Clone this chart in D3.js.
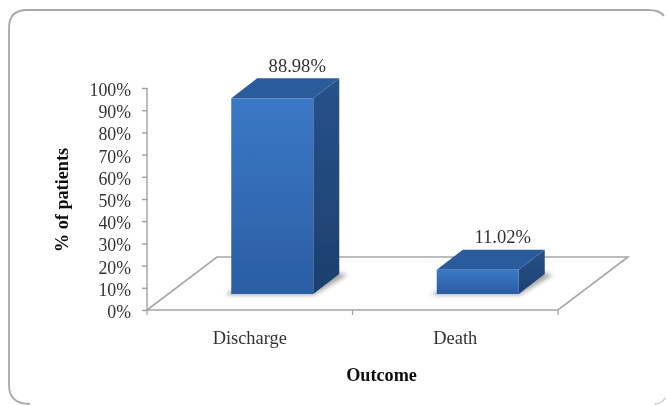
<!DOCTYPE html>
<html><head><meta charset="utf-8">
<script src="https://cdn.jsdelivr.net/npm/d3@7/dist/d3.min.js"></script>
<style>html,body{margin:0;padding:0;background:#fff}svg{display:block}text{font-family:"Liberation Serif",serif}</style>
</head><body><svg id="c" width="666" height="406"></svg>
<script>
const categories = ["Discharge", "Death"];
const values = [88.98, 11.02];
const valueLabels = ["88.98%", "11.02%"];
const yTicks = d3.range(0, 101, 10);

const svg = d3.select("#c");
const defs = svg.append("defs");
const front = defs.append("linearGradient").attr("id", "front").attr("x1", 0).attr("x2", 0).attr("y1", 0).attr("y2", 1);
front.append("stop").attr("offset", 0).attr("stop-color", "#3b78c6");
front.append("stop").attr("offset", 1).attr("stop-color", "#2a5da3");
const side = defs.append("linearGradient").attr("id", "side").attr("x1", 0).attr("x2", 0).attr("y1", 0).attr("y2", 1);
side.append("stop").attr("offset", 0).attr("stop-color", "#27528a");
side.append("stop").attr("offset", 1).attr("stop-color", "#1d3f6e");
defs.append("filter").attr("id", "soft").attr("x", "-20%").attr("y", "-20%").attr("width", "140%").attr("height", "140%")
  .append("feGaussianBlur").attr("stdDeviation", 2);
defs.append("filter").attr("id", "aa").attr("filterUnits", "userSpaceOnUse")
  .attr("x", 0).attr("y", 0).attr("width", 666).attr("height", 406)
  .append("feGaussianBlur").attr("stdDeviation", 0.45);

const depth = {x: 70, y: -53};
const barDepth = {x: 26, y: -20};
const x = d3.scaleBand().domain(categories).range([147, 558]);
const y = d3.scaleLinear().domain([0, 100]).range([310, 88]);
const yFront = d3.scaleLinear().domain([0, 100]).range([294, 74]);
const barW = 82;

const g = svg.append("g").attr("filter", "url(#aa)");

// frame: the left and top edges show, the right and bottom edges fade out
const frame = d3.path();
frame.moveTo(30, 404);
frame.quadraticCurveTo(9, 404, 9, 385);
frame.lineTo(9, 28);
frame.quadraticCurveTo(9, 10, 27, 10);
frame.lineTo(648, 10);
frame.quadraticCurveTo(660, 10, 664, 16);
g.append("path").attr("d", frame.toString()).attr("fill", "none")
  .attr("stroke", "#a8a8a8").attr("stroke-width", 1.8);
const corner = d3.path();
corner.moveTo(654, 404);
corner.quadraticCurveTo(662, 404, 665, 398);
g.append("path").attr("d", corner.toString()).attr("fill", "none")
  .attr("stroke", "#cfcfcf").attr("stroke-width", 1.5);

// floor
const fl = d3.line();
g.append("path").attr("d", fl([
  [x.range()[0], y(0)], [x.range()[1], y(0)],
  [x.range()[1] + depth.x, y(0) + depth.y],
  [x.range()[0] + depth.x, y(0) + depth.y]]) + "Z")
  .attr("fill", "none").attr("stroke", "#a6a6a6").attr("stroke-width", 1.6);

// y axis
const yAxis = d3.axisLeft(y).tickValues(yTicks).tickFormat(d => d + "%").tickSize(5).tickPadding(11);
const ya = g.append("g").attr("transform", "translate(147,0)").call(yAxis);
ya.selectAll("path,line").attr("stroke", "#a0a0a0").attr("stroke-width", 1.4);
ya.select(".domain").attr("d", `M0,${y(100)}V${y(0)}`);
ya.selectAll("line").attr("x1", -5).attr("x2", 0);
ya.selectAll("text").style("font-size", "17.8px").style("font-family", "'Liberation Serif',serif")
  .attr("fill", "#333").attr("dy", "0.42em");

// x axis
const xa = g.append("g").attr("transform", `translate(0,${y(0)})`);
xa.selectAll("line").data([147, 352.5, 558]).join("line")
  .attr("x1", d => d).attr("x2", d => d).attr("y1", 0).attr("y2", 5)
  .attr("stroke", "#a0a0a0").attr("stroke-width", 1.2);
xa.selectAll("text").data(categories).join("text")
  .attr("x", d => x(d) + x.bandwidth() / 2).attr("y", 34)
  .attr("text-anchor", "middle").style("font-size", "18.4px").attr("fill", "#333").text(d => d);

// bars
categories.forEach((c, i) => {
  const cx = x(c) + x.bandwidth() / 2 + 22.5;
  const l = cx - barW / 2, r = cx + barW / 2;
  const b = yFront(0), t = yFront(values[i]);
  const dx = barDepth.x, dy = barDepth.y;
  const bar = g.append("g");
  bar.append("path").attr("filter", "url(#soft)").attr("fill", "#8a8a8a").attr("opacity", 0.75)
    .attr("d", fl([[l - 6, b + 1], [r + 1, b + 1], [r + dx + 8, b + dy + 1], [r + dx - 4, b + dy - 2], [r, b - 3], [l, b - 3]]) + "Z");
  bar.append("path").attr("fill", "url(#side)")
    .attr("d", fl([[r, b], [r + dx, b + dy], [r + dx, t + dy], [r, t]]) + "Z");
  bar.append("path").attr("fill", "#2a5b9c")
    .attr("d", fl([[l, t], [l + dx, t + dy], [r + dx, t + dy], [r, t]]) + "Z");
  bar.append("rect").attr("x", l).attr("y", t).attr("width", barW).attr("height", b - t).attr("fill", "url(#front)");
  g.append("text").attr("x", cx + 25).attr("y", t + dy - 6.5)
    .attr("text-anchor", "middle").style("font-size", "18.6px").attr("fill", "#333").text(valueLabels[i]);
});

// titles
g.append("text").attr("transform", "translate(68,200) rotate(-90)").attr("text-anchor", "middle")
  .style("font-size", "18.2px").style("font-weight", "bold").attr("fill", "#111").text("% of patients");
g.append("text").attr("x", 381.5).attr("y", 381).attr("text-anchor", "middle")
  .style("font-size", "18.2px").style("font-weight", "bold").attr("fill", "#111").text("Outcome");
</script></body></html>
